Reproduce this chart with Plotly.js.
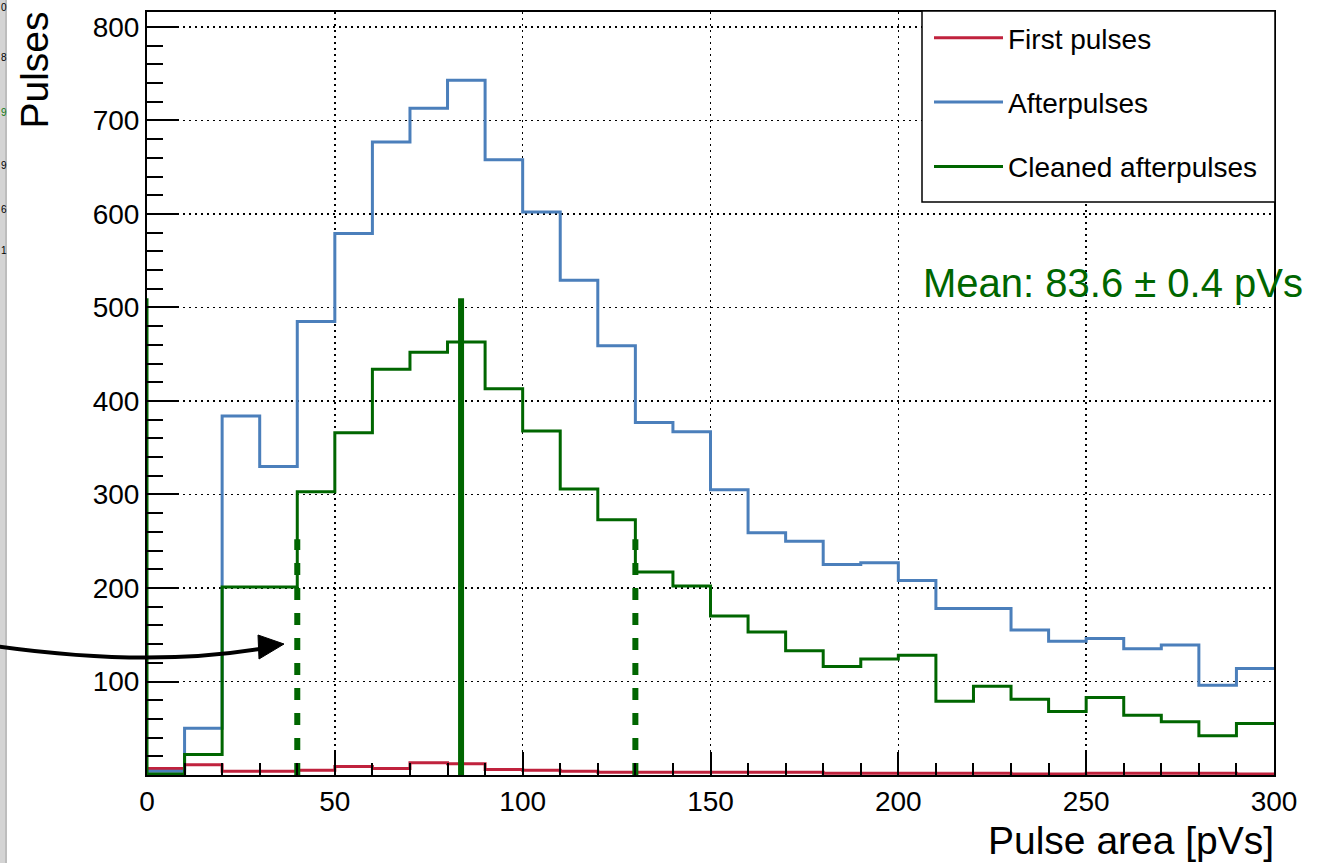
<!DOCTYPE html>
<html>
<head>
<meta charset="utf-8">
<script src="https://cdn.plot.ly/plotly-3.0.1.min.js"></script>
<style>
html,body{margin:0;padding:0;background:#ffffff;}
#chart{width:1337px;height:863px;}
</style>
</head>
<body>
<div id="chart"></div>
<script>
// ---- data ----
const binEdges = [0,10,20,30,40,50,60,70,80,90,100,110,120,130,140,150,160,170,180,190,200,210,220,230,240,250,260,270,280,290,300];
const firstPulses = [7,11,4,4,5,9,7,13,12,6,5,4,3,3,3,3,3,3,2,2,2,2,2,1,1,2,2,2,2,1];
const afterpulses = [4,50,384,330,485,579,677,713,743,658,602,529,459,377,367,305,259,250,225,227,208,178,178,155,143,146,135,139,96,114];
const cleanedAfterpulses = [1,22,201,201,303,366,434,452,463,413,368,306,273,217,202,170,153,133,116,124,128,79,95,81,68,83,64,57,42,55];
const seriesNames = ['First pulses','Afterpulses','Cleaned afterpulses'];
const meanValue = 83.6;
const meanError = 0.4;
const intervalLow = 40;
const intervalHigh = 130;
const meanLineTop = 510;
const intervalLineTop = 252;
const xTickVals = [0,50,100,150,200,250,300];
const yTickVals = [100,200,300,400,500,600,700,800];
const sideLabels = ['0','8','9','9','6','1'];
const sideLabelColors = ['#000000','#000000','#127a12','#000000','#000000','#000000'];

// ---- styling ----
const FONT = 'Liberation Sans, Arial, Helvetica, sans-serif';
const RED = '#c0223d', BLUE = '#4b7fbb', GREEN = '#006600';
const W = 1337, H = 863, ML = 147, MR = 63, MT = 12, MB = 88;
const PW = W - ML - MR, PH = H - MT - MB;
const px = x => (x - ML) / PW;          // pixel -> paper x
const py = y => (H - MB - y) / PH;      // pixel -> paper y

function stepY(vals){ return vals.concat([vals[vals.length-1]]); }

const traces = [
  {x: binEdges, y: stepY(firstPulses), name: seriesNames[0], type:'scatter', mode:'lines',
   line:{shape:'hv', color:RED, width:3}, legendgroup:'a'},
  {x: binEdges, y: stepY(afterpulses), name: seriesNames[1], type:'scatter', mode:'lines',
   line:{shape:'hv', color:BLUE, width:3}, legendgroup:'b'},
  {x: binEdges, y: stepY(cleanedAfterpulses), name: seriesNames[2], type:'scatter', mode:'lines',
   line:{shape:'hv', color:GREEN, width:3}, legendgroup:'c'},
  {x:[binEdges[0], binEdges[0]], y:[0, meanLineTop], type:'scatter', mode:'lines',
   line:{color:GREEN, width:3}, showlegend:false, hoverinfo:'skip'},
  {x:[meanValue, meanValue], y:[0, meanLineTop], type:'scatter', mode:'lines',
   line:{color:GREEN, width:6}, showlegend:false, hoverinfo:'skip'},
  {x:[intervalLow, intervalLow], y:[0, intervalLineTop], type:'scatter', mode:'lines',
   line:{color:GREEN, width:6, dash:'12px,13px'}, showlegend:false, hoverinfo:'skip'},
  {x:[intervalHigh, intervalHigh], y:[0, intervalLineTop], type:'scatter', mode:'lines',
   line:{color:GREEN, width:6, dash:'12px,13px'}, showlegend:false, hoverinfo:'skip'}
];

const axisCommon = {
  ticks:'inside', tickcolor:'#000', tickwidth:2,
  showline:true, linecolor:'#000', linewidth:2, mirror:true,
  showgrid:true, gridcolor:'#000', gridwidth:1.5, griddash:'2px,4px',
  zeroline:false, tickfont:{family:FONT, size:28, color:'#000'},
  fixedrange:true
};

const annotations = [
  {xref:'paper', yref:'paper', x:px(921), y:py(283), xanchor:'left', yanchor:'middle',
   text:'Mean: ' + meanValue.toFixed(1) + ' \u00b1 ' + meanError.toFixed(1) + ' pVs',
   showarrow:false, font:{family:FONT, size:40, color:GREEN}},
  {xref:'paper', yref:'paper', x:px(1276), y:py(840), xanchor:'right', yanchor:'middle',
   text:'Pulse area [pVs]', showarrow:false, font:{family:FONT, size:39, color:'#000'}},
  {xref:'paper', yref:'paper', x:px(34), y:py(10), xanchor:'center', yanchor:'top',
   text:'Pulses', textangle:-90, showarrow:false, font:{family:FONT, size:39, color:'#000'}}
];
const sideY = [8,58,112,165,210,250];
sideLabels.forEach((t,i) => annotations.push({
  xref:'paper', yref:'paper', x:px(8), y:py(sideY[i]), xanchor:'right', yanchor:'middle',
  text:t, showarrow:false, borderpad:0, font:{family:FONT, size:10, color:sideLabelColors[i]}
}));

// arrow (curved) from the left edge into the plot
const arrowPath = 'M' + px(-5) + ',' + py(646) + ' Q' + px(150) + ',' + py(668) + ' ' + px(265) + ',' + py(648);
const headPath = 'M' + px(284) + ',' + py(644) + ' L' + px(258) + ',' + py(635) + ' L' + px(259) + ',' + py(659) + ' Z';

const shapes = [
  {type:'rect', xref:'paper', yref:'paper', x0:px(0), x1:px(5), y0:py(863), y1:py(0),
   fillcolor:'#d4d4d4', line:{width:0}, layer:'above'},
  {type:'rect', xref:'paper', yref:'paper', x0:px(5), x1:px(7), y0:py(863), y1:py(0),
   fillcolor:'#bdbdbd', line:{width:0}, layer:'above'},
  {type:'path', xref:'paper', yref:'paper', path:arrowPath, line:{color:'#000', width:4}, layer:'above'},
  {type:'path', xref:'paper', yref:'paper', path:headPath, fillcolor:'#000', line:{color:'#000', width:1}, layer:'above'},
  {type:'rect', xref:'paper', yref:'paper', x0:px(922), x1:px(1275), y0:py(202), y1:py(11),
   fillcolor:'#ffffff', line:{color:'#000', width:1.5}, layer:'above'}
];

const layout = {
  width:W, height:H,
  margin:{l:ML, r:MR, t:MT, b:MB, pad:0},
  paper_bgcolor:'#ffffff', plot_bgcolor:'#ffffff',
  font:{family:FONT, color:'#000'},
  showlegend:true,
  legend:{x:px(929), y:py(13), xanchor:'left', yanchor:'top',
          bgcolor:'rgba(0,0,0,0)', borderwidth:0,
          font:{family:FONT, size:28, color:'#000'},
          itemwidth:69, traceorder:'grouped', tracegroupgap:25},
  xaxis: Object.assign({}, axisCommon, {
    range:[0,300], tickmode:'array', tickvals:xTickVals, ticklen:23,
    minor:{tickmode:'linear', tick0:0, dtick:10, ticks:'inside', ticklen:12, tickwidth:2, tickcolor:'#000', showgrid:false}
  }),
  yaxis: Object.assign({}, axisCommon, {
    range:[0,816], tickmode:'array', tickvals:yTickVals, ticklen:32,
    minor:{tickmode:'linear', tick0:0, dtick:20, ticks:'inside', ticklen:16, tickwidth:2, tickcolor:'#000', showgrid:false}
  }),
  annotations: annotations,
  shapes: shapes
};

Plotly.newPlot('chart', traces, layout, {displayModeBar:false, staticPlot:true});
</script>
</body>
</html>
